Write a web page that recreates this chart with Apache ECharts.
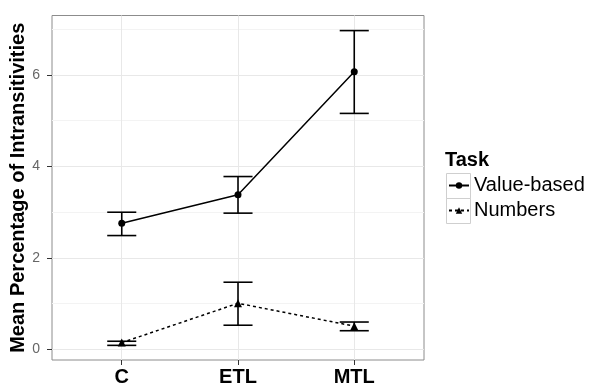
<!DOCTYPE html>
<html>
<head>
<meta charset="utf-8">
<script src="https://cdn.jsdelivr.net/npm/echarts@6/dist/echarts.min.js"></script>
<style>
  html, body { margin: 0; padding: 0; background: #fff; }
  #chart { width: 592px; height: 388px; }
</style>
</head>
<body>
<div id="chart"></div>
<script>
// data
var categories = ['C', 'ETL', 'MTL']
var valueMeans = [2.76, 3.38, 6.07]
var valueLower = [2.49, 2.98, 5.16]
var valueUpper = [3.00, 3.78, 6.97]
var numberMeans = [0.15, 1.01, 0.51]
var numberLower = [0.09, 0.53, 0.41]
var numberUpper = [0.18, 1.47, 0.60]
var yMajor = [0, 2, 4, 6]
var yMinor = [1, 3, 5, 7]
var xTicks = [0, 1, 2]

function pts (vals) {
  return vals.map(function (v, i) { return [i, v] })
}
function bars (lo, hi) {
  return lo.map(function (v, i) { return [i, v, hi[i]] })
}

function renderBar (params, api) {
  var x = api.value(0)
  var a = api.coord([x, api.value(2)])
  var b = api.coord([x, api.value(1)])
  var half = api.coord([x + 0.125, 0])[0] - api.coord([x, 0])[0]
  var st = { stroke: '#000', lineWidth: 1.6 }
  return {
    type: 'group',
    children: [
      { type: 'line', shape: { x1: a[0], y1: a[1], x2: b[0], y2: b[1] }, style: st },
      { type: 'line', shape: { x1: a[0] - half, y1: a[1], x2: a[0] + half, y2: a[1] }, style: st },
      { type: 'line', shape: { x1: b[0] - half, y1: b[1], x2: b[0] + half, y2: b[1] }, style: st }
    ]
  }
}

var gridLines = []
yMinor.forEach(function (v) { gridLines.push({ yAxis: v, lineStyle: { color: '#f3f3f3', width: 1, type: 'solid' } }) })
yMajor.forEach(function (v) { gridLines.push({ yAxis: v, lineStyle: { color: '#e8e8e8', width: 1, type: 'solid' } }) })
xTicks.forEach(function (v) { gridLines.push({ xAxis: v, lineStyle: { color: '#e8e8e8', width: 1, type: 'solid' } }) })

var chart = echarts.init(document.getElementById('chart'))
chart.setOption({
  animation: false,
  backgroundColor: '#fff',
  textStyle: { fontFamily: 'Liberation Sans, Arial, sans-serif' },
  title: {
    text: 'Task',
    left: 445,
    top: 150,
    padding: 0,
    textStyle: { fontSize: 20, fontWeight: 'bold', color: '#000' }
  },
  legend: {
    data: ['Value-based', 'Numbers'],
    orient: 'vertical',
    left: 448,
    top: 173,
    padding: 0,
    itemGap: 0,
    itemWidth: 20,
    itemHeight: 8,
    textStyle: { fontSize: 20, color: '#000', lineHeight: 25 }
  },
  grid: {
    left: 52,
    right: 168,
    top: 15.5,
    bottom: 28,
    outerBoundsMode: 'none',
    containLabel: false,
    show: true,
    borderColor: '#8c8c8c',
    borderWidth: 1
  },
  xAxis: {
    type: 'value',
    min: -0.6,
    max: 2.6,
    axisLine: { show: false, onZero: false },
    splitLine: { show: false },
    axisTick: { show: true, length: 5, lineStyle: { color: '#333' }, customValues: xTicks },
    axisLabel: {
      customValues: xTicks,
      margin: 7,
      fontSize: 20,
      fontWeight: 'bold',
      color: '#000',
      formatter: function (v) { return categories[Math.round(v)] }
    }
  },
  yAxis: {
    type: 'value',
    min: -0.23,
    max: 7.3,
    name: 'Mean Percentage of Intransitivities',
    nameLocation: 'middle',
    nameGap: 24,
    nameMoveOverlap: false,
    nameTextStyle: { fontSize: 20, fontWeight: 'bold', color: '#000' },
    axisLine: { show: false, onZero: false },
    splitLine: { show: false },
    axisTick: { show: true, length: 5, lineStyle: { color: '#333' }, customValues: yMajor },
    axisLabel: { customValues: yMajor, margin: 12, fontSize: 14, color: '#666' }
  },
  graphic: [
    { type: 'rect', shape: { x: 446.5, y: 173.5, width: 24, height: 25 }, style: { fill: 'none', stroke: '#cfcfcf', lineWidth: 1 } },
    { type: 'rect', shape: { x: 446.5, y: 198.5, width: 24, height: 25 }, style: { fill: 'none', stroke: '#cfcfcf', lineWidth: 1 } }
  ],
  series: [
    {
      type: 'line',
      silent: true,
      data: [],
      z: 0,
      markLine: { silent: true, symbol: 'none', label: { show: false }, z: 0, data: gridLines }
    },
    {
      type: 'custom',
      silent: true,
      renderItem: renderBar,
      data: bars(valueLower, valueUpper),
      z: 3
    },
    {
      type: 'custom',
      silent: true,
      renderItem: renderBar,
      data: bars(numberLower, numberUpper),
      z: 3
    },
    {
      name: 'Value-based',
      type: 'line',
      data: pts(valueMeans),
      symbol: 'circle',
      symbolSize: 7,
      itemStyle: { color: '#000' },
      lineStyle: { color: '#000', width: 1.5 },
      z: 4
    },
    {
      name: 'Numbers',
      type: 'line',
      data: pts(numberMeans),
      symbol: 'triangle',
      symbolSize: 8,
      itemStyle: { color: '#000' },
      lineStyle: { color: '#000', width: 1.5, type: [3, 3] },
      z: 4
    }
  ]
})
</script>
</body>
</html>
